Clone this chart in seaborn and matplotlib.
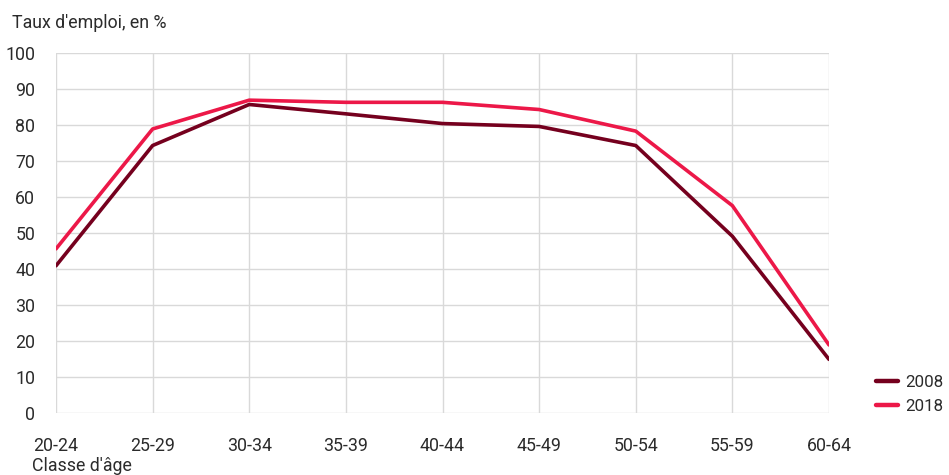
import matplotlib
matplotlib.use("Agg")
import matplotlib.pyplot as plt
import seaborn as sns
import pandas as pd

# Employment rate by age group, 2008 vs 2018
age_groups = ["20-24", "25-29", "30-34", "35-39", "40-44", "45-49", "50-54", "55-59", "60-64"]
rate_2008 = [40.9, 74.3, 85.7, 83.1, 80.4, 79.6, 74.3, 49.1, 14.9]
rate_2018 = [45.6, 78.9, 86.9, 86.3, 86.3, 84.3, 78.3, 57.6, 18.9]
years = ["2008", "2018"]
colors = ["#75001e", "#ec1848"]

df = pd.DataFrame({
    "age": list(range(len(age_groups))) * 2,
    "rate": rate_2008 + rate_2018,
    "year": [years[0]] * len(age_groups) + [years[1]] * len(age_groups),
})

sns.set_theme(style="white")
plt.rcParams["font.family"] = ["Roboto", "DejaVu Sans"]
text_color = "#2b2b2b"
grid_color = "#d9d9d9"
fs = 12.8

fig = plt.figure(figsize=(9.49, 4.75), dpi=100)
ax = fig.add_axes([56 / 949, 1 - 413 / 475, (829 - 56) / 949, (413 - 53) / 475])

sns.lineplot(data=df, x="age", y="rate", hue="year", palette=dict(zip(years, colors)),
             linewidth=2.6, ax=ax, legend=True)

ax.set_xlim(0, len(age_groups) - 1)
ax.set_ylim(0, 100)
ax.set_xticks(range(len(age_groups)))
ax.set_xticklabels(age_groups)
ax.set_yticks(range(0, 101, 10))
ax.grid(True, color=grid_color, linewidth=1)
ax.set_axisbelow(True)
for side in ["top", "right", "bottom", "left"]:
    ax.spines[side].set_visible(False)
ax.tick_params(axis="both", length=0, labelsize=fs, colors=text_color)
ax.tick_params(axis="x", pad=17)
ax.tick_params(axis="y", pad=15)
ax.set_xlabel("")
ax.set_ylabel("")

fig.text(12 / 949, 1 - 23 / 475, "Taux d'emploi, en %", fontsize=fs, color=text_color, va="center", ha="left")
fig.text(32 / 949, 1 - 466 / 475, "Classe d'âge", fontsize=fs, color=text_color, va="center", ha="left")

leg = ax.legend(loc="center left", bbox_to_anchor=(1.054, 0.052), frameon=False,
                fontsize=12.2, handlelength=1.3, handletextpad=0.45, labelspacing=0.5,
                borderaxespad=0, borderpad=0.3)
for t in leg.get_texts():
    t.set_color(text_color)
for h in leg.get_lines():
    h.set_linewidth(3.2)

fig.savefig("out.png", dpi=100)
